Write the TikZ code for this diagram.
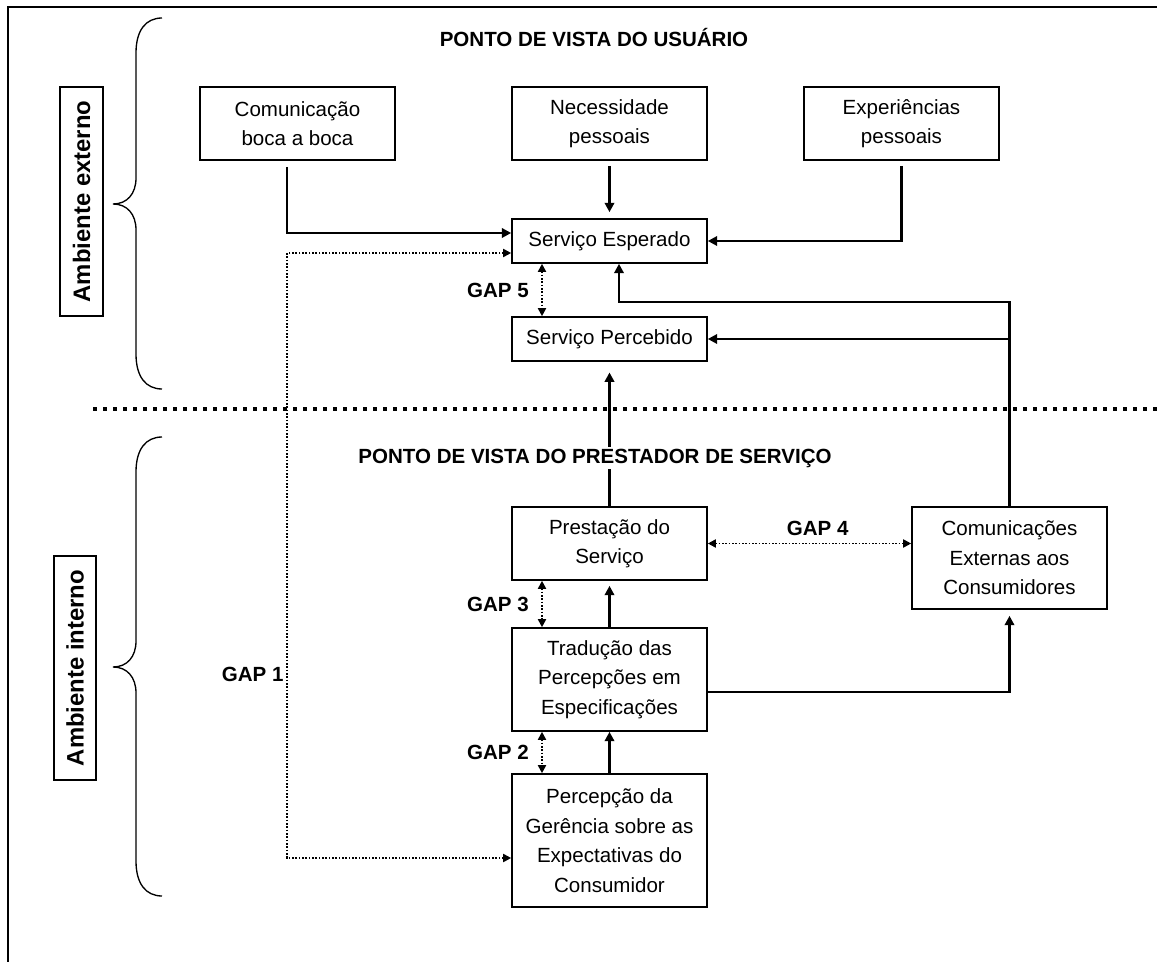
\documentclass[tikz,border=0pt]{standalone}
\usepackage{fontspec}
\setmainfont{Liberation Sans}
\usetikzlibrary{arrows.meta,calc}

\begin{document}
\begin{tikzpicture}[x=0.75pt,y=-0.75pt,->,>={Triangle[length=7pt,width=7pt]},line width=1.8pt,font=\fontsize{15.4}{22.1}\selectfont]
\tikzstyle{box}=[draw,line width=1.2pt,align=center,minimum width=146.25pt,inner sep=2pt]
\tikzstyle{gapline}=[<->,line width=1.3pt,dash pattern=on 1.3pt off 1.2pt,>={Triangle[length=6pt,width=6pt]}]
\tikzstyle{gaplabel}=[font=\fontsize{15.4}{22.1}\selectfont\bfseries]
\tikzstyle{sidebox}=[draw,line width=1.3pt,rotate=90,font=\fontsize{17.9}{20}\selectfont\bfseries,minimum width=171.75pt,minimum height=32pt]
\useasboundingbox (0,0) rectangle (1157,962);
% frame
\draw[-,line width=1.8pt] (8,962) -- (8,7) -- (1157,7);

% user side
\node[gaplabel] (tit1) at (594,37.5) {PONTO DE VISTA DO USUÁRIO};
\node[box,minimum height=54.75pt] (nec) at (609.5,123.5) {Necessidade\\pessoais};
\node[box,minimum height=54.75pt] (com) [left of=nec,node distance=234pt] {Comunicação\\boca a boca};
\node[box,minimum height=54.75pt] (exp) [right of=nec,node distance=219pt] {Experiências\\pessoais};
\node[box,minimum height=33pt] (esp) at (609.5,241) {Serviço Esperado};
\node[box,minimum height=33pt] (perc) [below of=esp,node distance=73.5pt] {Serviço Percebido};

% provider side
\node[box,minimum height=54.75pt] (prest) at (609.5,543.5) {Prestação do\\Serviço};
\node[box,minimum height=77.25pt] (trad) [below of=prest,node distance=102pt] {Tradução das\\Percepções em\\Especificações};
\node[box,minimum height=99.75pt] (ger) [below of=trad,node distance=120.75pt] {Percepção da\\Gerência sobre as\\Expectativas do\\Consumidor};
\node[box,minimum height=76.5pt] (ext) at (1009.5,558) {Comunicações\\Externas aos\\Consumidores};

\node[sidebox] (amb1) at (81.5,201.5) {Ambiente externo};
\node[sidebox,minimum width=168pt] (amb2) at (75,668) {Ambiente interno};

% braces
\foreach \t/\m/\b in {18/204/389,437/667/896}
  \draw[-,line width=1pt] (162,\t) .. controls (146,\t) and (136,\t+12) .. (136,\t+35) -- (136,\m-26) .. controls (136,\m-10) and (127,\m) .. (113,\m) .. controls (127,\m) and (136,\m+10) .. (136,\m+26) -- (136,\b-35) .. controls (136,\b-12) and (146,\b) .. (162,\b);

% separator
\draw[-,line width=3pt,dash pattern=on 3pt off 4.5pt] (93,409) -- (1157,409);

\path (nec) edge[shorten <=3.75pt,shorten >=4.5pt] (esp)
  (prest) edge[shorten >=8pt] (perc)
  (trad) edge[shorten >=3.75pt] (prest)
  (ger) edge (trad);
\draw[shorten <=4.5pt] ($(com.south)+(-10.5,0)$) |- ($(esp.west)+(0,-8)$);
\draw[shorten <=3.75pt] (exp) |- (esp);
\coordinate (c1) at (619,302);
\draw (ext) |- (c1) -- (c1 |- esp.south);
\draw (ext.north |- perc.east) -- (perc);
\draw[shorten >=4.5pt] ($(trad.east)+(0,12.5)$) -| (ext);

% gaps
\draw[gapline] ($(esp.south)+(-67.5,0)$) -- ($(perc.north)+(-67.5,0)$) node[midway,left=6pt,gaplabel] {GAP 5};
\draw[gapline] ($(prest.south)+(-67.5,0)$) -- ($(trad.north)+(-67.5,0)$) node[midway,left=6pt,gaplabel] {GAP 3};
\draw[gapline] ($(trad.south)+(-67.5,0)$) -- ($(ger.north)+(-67.5,0)$) node[midway,left=6pt,gaplabel] {GAP 2};
\draw[gapline] (prest) -- (prest -| ext.west) node[pos=0.54,above=2pt,gaplabel] {GAP 4};
\coordinate (g1) at (287,674);
\draw[gapline] ($(esp.west)+(0,12)$) -| (g1) node[left=-1.4pt,gaplabel] {GAP 1} |- ($(ger.west)+(0,17.5)$);

\node[gaplabel,fill=white,inner sep=1pt] (tit2) at (595,458) {PONTO DE VISTA DO PRESTADOR DE SERVIÇO};
\end{tikzpicture}
\end{document}
